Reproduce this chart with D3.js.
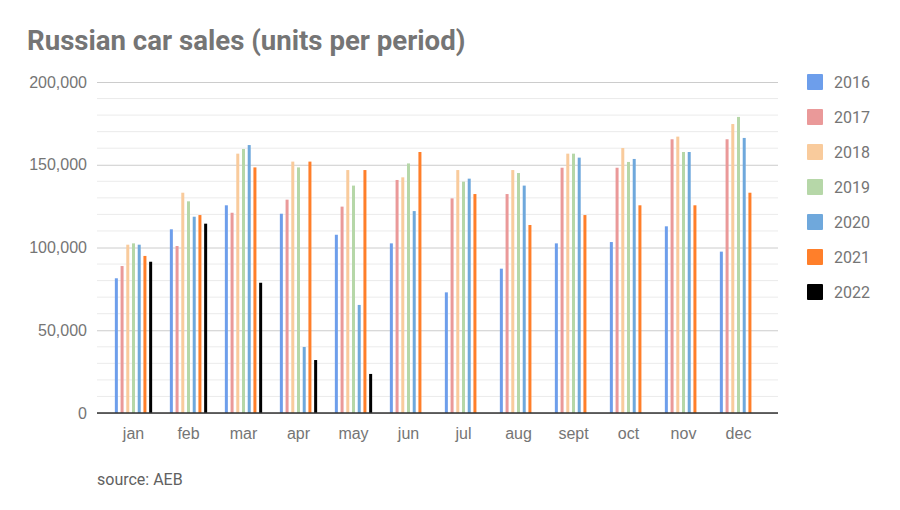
<!DOCTYPE html>
<html>
<head>
<meta charset="utf-8">
<script src="https://cdn.jsdelivr.net/npm/d3@7"></script>
<style>
  body { margin: 0; background: #fff; }
  svg { font-family: Roboto, sans-serif; }
  .tick text { fill: #757575; }
</style>
</head>
<body>
<svg id="chart" width="900" height="510"></svg>
<script>
const months = ["jan", "feb", "mar", "apr", "may", "jun", "jul", "aug", "sept", "oct", "nov", "dec"];
const years = ["2016", "2017", "2018", "2019", "2020", "2021", "2022"];
const colors = ["#6d9eeb", "#ea9999", "#f9cb9c", "#b6d7a8", "#6fa8dc", "#ff7f2a", "#000000"];

const sales2016 = [81400, 111000, 125500, 120400, 107700, 102500, 72900, 87200, 102500, 103300, 112800, 97500];
const sales2017 = [88800, 100900, 121000, 128900, 124700, 140800, 129700, 132300, 148200, 148200, 165400, 165400];
const sales2018 = [101700, 133100, 156700, 151900, 146800, 142400, 146800, 146800, 156700, 160100, 167000, 174600];
const sales2019 = [102500, 127900, 159500, 148400, 137400, 150800, 139800, 145000, 156700, 151700, 157700, 178900];
const sales2020 = [101700, 118600, 161900, 39900, 65300, 122000, 141600, 137400, 154300, 153500, 157700, 166200];
const sales2021 = [94900, 119600, 148400, 151900, 146800, 157700, 132300, 113600, 119600, 125500, 125500, 133100];
const sales2022 = [91400, 114400, 78700, 32000, 23600, null, null, null, null, null, null, null];

const series = [sales2016, sales2017, sales2018, sales2019, sales2020, sales2021, sales2022];
const yTicks = [0, 50000, 100000, 150000, 200000];

const svg = d3.select("svg#chart");
const plot = { left: 97, right: 778, top: 82, bottom: 413 };

const x0 = d3.scaleBand().domain(months).range([106, 766]);
const x1 = d3.scaleBand().domain(years).range([0, 40]);
const y = d3.scaleLinear().domain([0, 200000]).range([plot.bottom, plot.top]);
const color = d3.scaleOrdinal().domain(years).range(colors);

// minor grid every 10,000
svg.append("g")
  .selectAll("line")
  .data(d3.range(10000, 200000, 10000).filter(v => v % 50000 !== 0))
  .enter().append("line")
  .attr("x1", plot.left).attr("x2", plot.right)
  .attr("y1", d => y(d)).attr("y2", d => y(d))
  .attr("stroke", "#ebebeb").attr("stroke-width", 1);

const yAxis = svg.append("g")
  .attr("transform", `translate(${plot.left},0)`)
  .call(d3.axisLeft(y)
    .tickValues(yTicks)
    .tickSize(-(plot.right - plot.left))
    .tickPadding(10)
    .tickFormat(d3.format(",")));
yAxis.select(".domain").remove();
yAxis.selectAll(".tick line").attr("stroke", "#cccccc");
yAxis.selectAll(".tick text").style("font-size", "16px");

// bars
const rows = years.map((yr, i) => months.map((m, j) => ({ year: yr, month: m, value: series[i][j] })));

svg.append("g")
  .selectAll("g")
  .data(rows)
  .enter().append("g")
  .attr("fill", d => color(d[0].year))
  .selectAll("rect")
  .data(d => d.filter(p => p.value !== null))
  .enter().append("rect")
  .attr("x", d => x0(d.month) + (x0.bandwidth() - 40) / 2 + x1(d.year) + (x1.bandwidth() - 3) / 2)
  .attr("width", 3)
  .attr("y", d => y(d.value))
  .attr("height", d => y(0) - y(d.value));

// baseline
svg.append("line")
  .attr("x1", plot.left).attr("x2", plot.right)
  .attr("y1", y(0)).attr("y2", y(0))
  .attr("stroke", "#333333").attr("stroke-width", 1.5);

const xAxis = svg.append("g")
  .attr("transform", `translate(0,${plot.bottom})`)
  .call(d3.axisBottom(x0).tickSize(0).tickPadding(15));
xAxis.select(".domain").remove();
xAxis.selectAll(".tick text").style("font-size", "16px");

// title
svg.append("text")
  .attr("x", 27)
  .attr("y", 50)
  .attr("fill", "#757575")
  .style("font-size", "27.6px")
  .style("font-weight", "bold")
  .text("Russian car sales (units per period)");

// legend
const legend = svg.selectAll(".legend")
  .data(years)
  .enter().append("g")
  .attr("class", "legend")
  .attr("transform", (d, i) => `translate(807,${82 + i * 35})`);

legend.append("rect")
  .attr("x", 0).attr("y", -8)
  .attr("width", 16).attr("height", 16)
  .attr("rx", 1)
  .attr("fill", d => color(d));

legend.append("text")
  .attr("x", 27)
  .attr("y", 0)
  .attr("dy", "0.35em")
  .attr("fill", "#757575")
  .style("font-size", "16px")
  .text(d => d);

svg.append("text")
  .attr("x", 97)
  .attr("y", 485)
  .attr("fill", "#616161")
  .style("font-size", "16px")
  .text("source: AEB");
</script>
</body>
</html>
